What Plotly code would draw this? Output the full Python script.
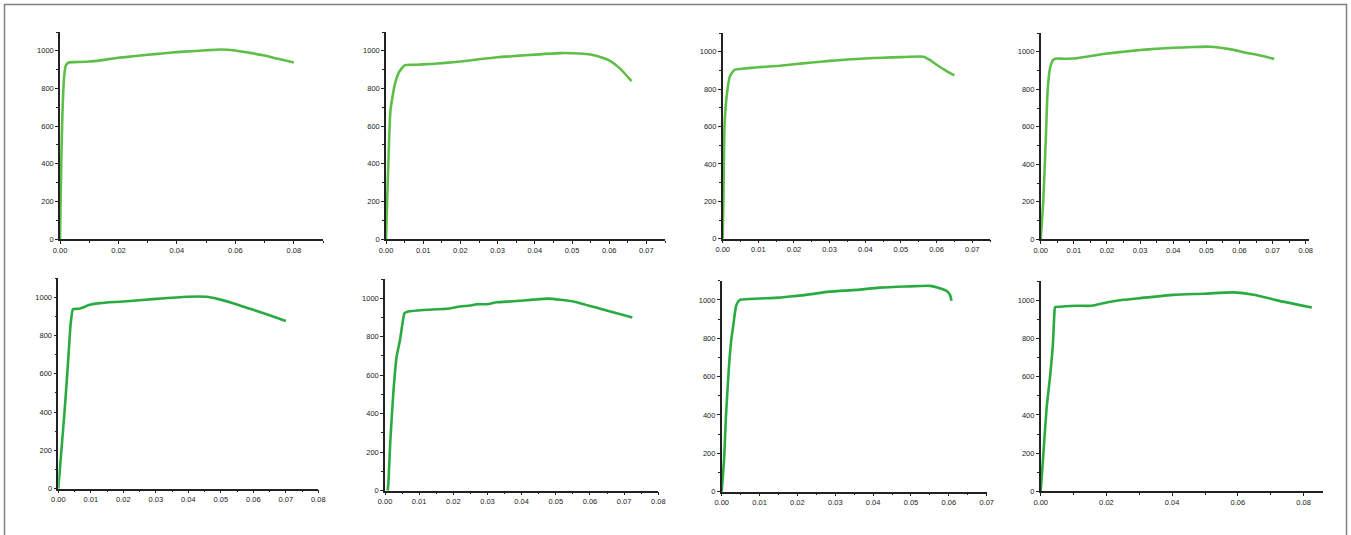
import plotly.graph_objects as go

W, H = 1351, 535

# ---- data (strain, stress) for the eight panels ----
strain_1 = [0, 0.0002, 0.0006, 0.0009, 0.0014, 0.002, 0.0029, 0.005, 0.01, 0.015, 0.02, 0.025, 0.03, 0.035, 0.04, 0.045, 0.05, 0.055, 0.06, 0.065, 0.07, 0.075, 0.08]
stress_1 = [0, 205, 524, 700, 860, 922, 938, 940, 943, 952, 963, 971, 979, 986, 993, 998, 1003, 1007, 1002, 989, 975, 956, 938]

strain_2 = [0, 0.0003, 0.0006, 0.0012, 0.0024, 0.0036, 0.0051, 0.008, 0.012, 0.016, 0.02, 0.025, 0.03, 0.035, 0.04, 0.047, 0.052, 0.055, 0.058, 0.06, 0.063, 0.066]
stress_2 = [0, 200, 383, 683, 824, 890, 924, 926, 930, 936, 943, 955, 966, 973, 980, 988, 986, 980, 965, 949, 904, 839]

strain_3 = [0, 0.0002, 0.0005, 0.0011, 0.002, 0.0033, 0.006, 0.01, 0.016, 0.02, 0.025, 0.03, 0.035, 0.04, 0.045, 0.05, 0.0563, 0.058, 0.06, 0.0625, 0.065]
stress_3 = [0, 207, 600, 760, 868, 903, 910, 917, 925, 933, 942, 951, 958, 964, 968, 971, 973, 957, 930, 900, 873]

strain_4 = [0, 0.0008, 0.0016, 0.0021, 0.0029, 0.0037, 0.0044, 0.007, 0.01, 0.015, 0.02, 0.025, 0.03, 0.035, 0.04, 0.046, 0.051, 0.057, 0.062, 0.067, 0.0705]
stress_4 = [0, 210, 565, 796, 920, 955, 963, 963, 964, 977, 991, 1000, 1009, 1016, 1021, 1025, 1027, 1014, 995, 977, 961]

strain_5 = [0, 0.001, 0.002, 0.003, 0.0038, 0.0045, 0.0056, 0.0067, 0.0097, 0.0128, 0.02, 0.03, 0.0395, 0.0456, 0.049, 0.054, 0.06, 0.065, 0.07]
stress_5 = [0, 210, 420, 660, 860, 937, 939, 941, 960, 969, 977, 991, 1002, 1002, 991, 967, 934, 905, 876]

strain_6 = [0.0008, 0.0010, 0.0015, 0.0024, 0.0034, 0.0044, 0.0052, 0.0057, 0.0068, 0.0112, 0.018, 0.022, 0.0249, 0.0268, 0.0298, 0.0327, 0.0376, 0.0434, 0.0478, 0.0551, 0.063, 0.0724]
stress_6 = [0, 40, 239, 498, 697, 784, 879, 922, 931, 939, 945, 957, 962, 969, 969, 979, 984, 993, 998, 983, 945, 900]

strain_7 = [0, 0.0007, 0.0011, 0.0019, 0.0025, 0.0031, 0.0038, 0.0045, 0.0051, 0.01, 0.0153, 0.0188, 0.0223, 0.0285, 0.0356, 0.0417, 0.0488, 0.055, 0.0576, 0.0594, 0.0603, 0.0607]
stress_7 = [0, 193, 385, 646, 786, 873, 969, 995, 1002, 1007, 1012, 1019, 1026, 1043, 1052, 1064, 1070, 1073, 1061, 1047, 1026, 995]

strain_8 = [0, 0.0008, 0.0018, 0.0028, 0.0037, 0.0042, 0.0044, 0.0059, 0.011, 0.0155, 0.02, 0.0252, 0.0303, 0.0404, 0.0495, 0.0587, 0.0648, 0.0719, 0.0825]
stress_8 = [0, 192, 436, 593, 768, 942, 965, 967, 972, 972, 989, 1003, 1012, 1029, 1035, 1042, 1030, 1000, 963]

strains = [strain_1, strain_2, strain_3, strain_4, strain_5, strain_6, strain_7, strain_8]
stresses = [stress_1, stress_2, stress_3, stress_4, stress_5, stress_6, stress_7, stress_8]

x_max = [0.09, 0.075, 0.075, 0.081, 0.08, 0.08, 0.07, 0.086]
x_dtick = [0.02, 0.01, 0.01, 0.01, 0.01, 0.01, 0.01, 0.02]
y_max = 1100

# ---- layout: axes boxes in pixels (left, right, top, bottom) ----
boxes = [
    (60, 323, 32, 239),
    (386, 665, 32, 239),
    (722.7, 990, 33, 238.7),
    (1040.7, 1309, 33, 239.3),
    (58.3, 318.3, 278, 488.7),
    (385, 658.3, 279, 490.7),
    (721.7, 986.7, 280.7, 491.7),
    (1040.7, 1323.3, 281.3, 491.3),
]
colors = ['#5dbf48'] * 4 + ['#2aab42'] * 4

fig = go.Figure()
font = dict(family="Liberation Sans, Arial, sans-serif", size=7.5, color="#222222")
layout = dict(
    width=W, height=H,
    margin=dict(l=0, r=0, t=0, b=0, autoexpand=False),
    paper_bgcolor="white", plot_bgcolor="white",
    showlegend=False,
    font=font,
)
for i, (l, r, t, b) in enumerate(boxes):
    n = "" if i == 0 else str(i + 1)
    fig.add_trace(go.Scatter(
        x=strains[i], y=stresses[i], mode="lines",
        line=dict(color=colors[i], width=2.6, shape="spline", smoothing=0.5),
        xaxis="x" + n, yaxis="y" + n, hoverinfo="skip",
    ))
    layout["xaxis" + n] = dict(
        domain=[l / W, r / W], anchor="y" + n, range=[0, x_max[i]],
        automargin=False,
        showgrid=False, zeroline=False, showline=True, linecolor="#222222", linewidth=1.5,
        ticks="outside", ticklen=3, tickwidth=1, tickcolor="#222222",
        dtick=x_dtick[i], tick0=0, tickformat=".2f",
        minor=dict(ticks="outside", ticklen=2, tickcolor="#222222", dtick=x_dtick[i] / 2),
        tickfont=font, fixedrange=True,
    )
    layout["yaxis" + n] = dict(
        domain=[1 - b / H, 1 - t / H], anchor="x" + n, range=[0, y_max],
        automargin=False,
        showgrid=False, zeroline=False, showline=True, linecolor="#222222", linewidth=1.5,
        ticks="outside", ticklen=3, tickwidth=1, tickcolor="#222222",
        dtick=200, tick0=0,
        minor=dict(ticks="outside", ticklen=2, tickcolor="#222222", dtick=100),
        tickfont=font, fixedrange=True,
    )
fig.update_layout(**layout)

fig.add_shape(type="rect", xref="paper", yref="paper",
              x0=4.5 / W, x1=1346.5 / W, y0=-0.05, y1=1 - 4.5 / H,
              line=dict(color="#808080", width=1.5), fillcolor="rgba(0,0,0,0)")

fig.write_html("out.html", config={"displayModeBar": False},
               post_script="document.body.style.margin='0';document.body.style.overflow='hidden';")
